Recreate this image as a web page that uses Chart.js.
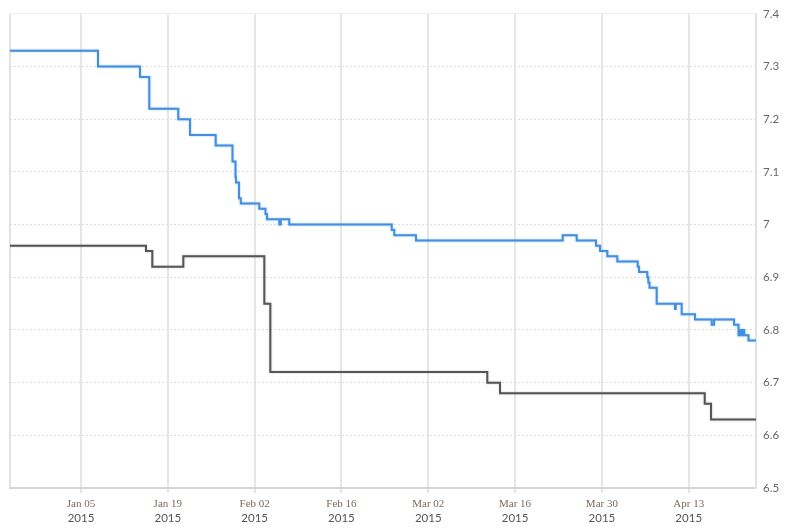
<!DOCTYPE html>
<html><head><meta charset="utf-8">
<script src="https://cdn.jsdelivr.net/npm/chart.js@4/dist/chart.umd.min.js"></script>
<style>html,body{margin:0;padding:0;background:#fff}canvas{display:block}</style>
</head><body>
<canvas id="c" width="796" height="528"></canvas>
<script>
// ---- data (dates are change points; value holds until next date) ----
const blueDates = [
  '2014-12-24T13:12','2015-01-07T17:45','2015-01-14T12:15','2015-01-16T00:15','2015-01-20T16:30',
  '2015-01-22T14:00','2015-01-26T17:15','2015-01-29T10:20','2015-01-29T22:00','2015-01-30T00:00',
  '2015-01-30T11:30','2015-01-30T18:30','2015-02-02T18:00','2015-02-03T18:00','2015-02-04T00:00',
  '2015-02-05T23:30','2015-02-06T05:00','2015-02-07T14:00','2015-02-24T02:40','2015-02-24T12:30',
  '2015-02-28T00:30','2015-03-23T16:20','2015-03-25T22:30','2015-03-29T01:10','2015-03-29T16:50',
  '2015-03-30T21:00','2015-04-01T11:40','2015-04-04T18:40','2015-04-04T23:45','2015-04-06T07:40',
  '2015-04-06T11:45','2015-04-06T16:20','2015-04-07T20:10','2015-04-10T19:00','2015-04-10T21:40',
  '2015-04-11T20:50','2015-04-14T00:15','2015-04-16T17:00','2015-04-17T02:00','2015-04-20T07:30',
  '2015-04-21T00:45','2015-04-21T08:30','2015-04-21T12:15','2015-04-21T19:10','2015-04-21T23:00',
  '2015-04-22T15:20','2015-04-23T20:25'
];
const blueValues = [
  7.33,7.30,7.28,7.22,7.20,
  7.17,7.15,7.12,7.09,7.08,
  7.05,7.04,7.03,7.02,7.01,
  7.00,7.01,7.00,6.99,6.98,
  6.97,6.98,6.97,6.96,6.95,
  6.94,6.93,6.92,6.91,6.90,
  6.89,6.88,6.85,6.84,6.85,
  6.83,6.82,6.81,6.82,6.81,
  6.79,6.80,6.79,6.80,6.79,
  6.78,6.78
];
const grayDates = [
  '2014-12-24T13:12','2015-01-15T11:30','2015-01-16T12:00','2015-01-21T12:00','2015-02-03T13:30',
  '2015-02-04T12:45','2015-03-11T12:30','2015-03-13T13:40','2015-04-15T14:00','2015-04-16T14:25',
  '2015-04-23T20:25'
];
const grayValues = [6.96,6.95,6.92,6.94,6.85,6.72,6.70,6.68,6.66,6.63,6.63];

const xRange = ['2014-12-24T13:12','2015-04-23T20:25'];
const tickDates = ['2015-01-05T00:00','2015-01-19T00:00','2015-02-02T00:00','2015-02-16T00:00',
                   '2015-03-02T00:00','2015-03-16T00:00','2015-03-30T00:00','2015-04-13T00:00'];
const tickMonthLabels = ['Jan 05','Jan 19','Feb 02','Feb 16','Mar 02','Mar 16','Mar 30','Apr 13'];
const tickYearLabels = ['2015','2015','2015','2015','2015','2015','2015','2015'];
const yTicks = [6.5,6.6,6.7,6.8,6.9,7.0,7.1,7.2,7.3,7.4];

// ---- helpers ----
const t = s => Date.parse(s + ':00Z');
const pts = (ds, vs) => ds.map((d, i) => ({x: t(d), y: vs[i]}));
const xMin = t(xRange[0]), xMax = t(xRange[1]);
const setXTicks = s => { s.ticks = tickDates.map(d => ({value: t(d)})); };

const framePlugin = {
  id: 'frame',
  beforeDatasetsDraw(chart) {
    const {ctx, chartArea: a} = chart;
    ctx.save();
    ctx.strokeStyle = '#e2e2e2';
    ctx.lineWidth = 2;
    ctx.beginPath();
    ctx.moveTo(a.left, a.top);
    ctx.lineTo(a.left, a.bottom);
    ctx.stroke();
    ctx.strokeStyle = '#efefef';
    ctx.lineWidth = 1;
    ctx.beginPath();
    ctx.moveTo(a.left, a.top - 0.5);
    ctx.lineTo(a.right, a.top - 0.5);
    ctx.stroke();
    ctx.restore();
  }
};
const haloPlugin = {
  id: 'halo',
  beforeDatasetDraw(chart, args) {
    const ctx = chart.ctx;
    ctx.save();
    ctx.shadowColor = args.index === 0 ? 'rgba(74,144,226,0.55)' : 'rgba(90,90,90,0.35)';
    ctx.shadowBlur = 2;
  },
  afterDatasetDraw(chart) { chart.ctx.restore(); }
};

new Chart(document.getElementById('c'), {
  type: 'line',
  data: {
    datasets: [
      {data: pts(blueDates, blueValues), borderColor: '#4390e0', borderWidth: 2, stepped: 'before',
       pointRadius: 0, fill: false, xAxisID: 'x', yAxisID: 'y'},
      {data: pts(grayDates, grayValues), borderColor: '#555555', borderWidth: 2, stepped: 'before',
       pointRadius: 0, fill: false, xAxisID: 'x', yAxisID: 'y'}
    ]
  },
  options: {
    responsive: false,
    animation: false,
    layout: {padding: {left: 10, top: 10, right: 0, bottom: 0}},
    plugins: {legend: {display: false}, tooltip: {enabled: false}},
    scales: {
      x: {
        type: 'linear', position: 'bottom', min: xMin, max: xMax,
        afterBuildTicks: setXTicks,
        afterFit: s => { s.height = 22; },
        ticks: {callback: (v, i) => tickMonthLabels[i], autoSkip: false, maxRotation: 0,
                font: {family: 'Liberation Serif', size: 11}, color: '#7a6a58', padding: 5},
        grid: {color: '#e6e6e6', lineWidth: 2, tickLength: 5, tickColor: '#e3e6ea'},
        border: {color: '#d6d6d6', width: 2}
      },
      x2: {
        type: 'linear', position: 'bottom', min: xMin, max: xMax,
        afterBuildTicks: setXTicks,
        afterFit: s => { s.height = 18; },
        ticks: {callback: (v, i) => tickYearLabels[i], autoSkip: false, maxRotation: 0,
                font: {family: 'Lato', size: 11.5}, color: '#555', padding: 1},
        grid: {display: false, drawTicks: false, tickLength: 0},
        border: {display: false}
      },
      y: {
        type: 'linear', position: 'right', min: 6.5, max: 7.4,
        afterBuildTicks: s => { s.ticks = yTicks.map(v => ({value: v})); },
        afterFit: s => { s.width = 40; },
        ticks: {callback: v => String(+v.toFixed(1)), font: {family: 'Lato', size: 11.5},
                color: '#666', padding: 7},
        grid: {color: '#dddddd', lineWidth: 1, drawTicks: false},
        border: {color: '#e2e2e2', width: 2, dash: [2, 2]}
      }
    }
  },
  plugins: [framePlugin, haloPlugin]
});
</script>
</body></html>
